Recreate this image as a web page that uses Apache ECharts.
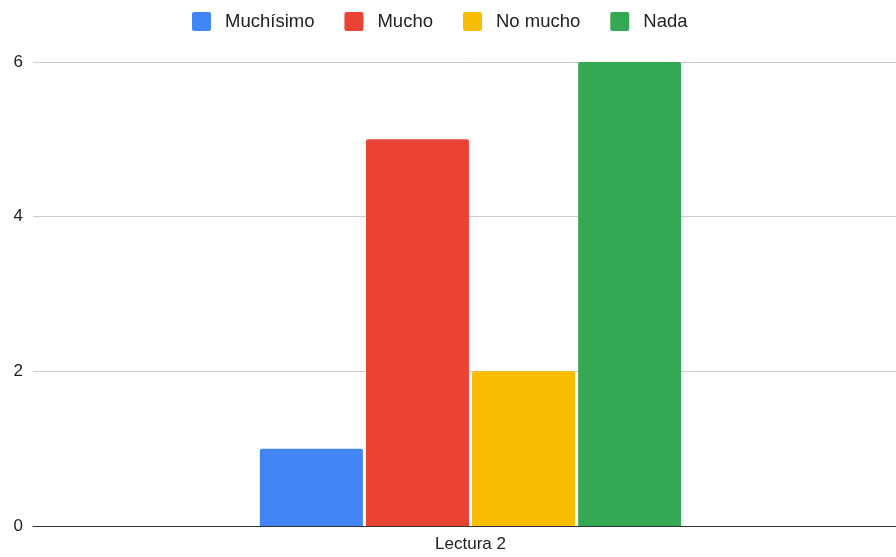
<!DOCTYPE html>
<html>
<head>
<meta charset="utf-8">
<script src="https://cdn.jsdelivr.net/npm/echarts@6/dist/echarts.min.js"></script>
<style>
  html, body { margin: 0; padding: 0; background: #fff; }
  #chart { width: 896px; height: 557px; }
</style>
</head>
<body>
<div id="chart"></div>
<script>
// datos del gráfico
const categories = ["Lectura 2"];
const seriesNames = ["Muchísimo", "Mucho", "No mucho", "Nada"];
const seriesColors = ["#4285f4", "#ea4335", "#fbbc04", "#34a853"];
const muchisimo = [1];
const mucho = [5];
const noMucho = [2];
const nada = [6];
const yMin = 0;
const yMax = 6;
const yStep = 2;

const values = [muchisimo, mucho, noMucho, nada];
const font = "Liberation Sans, Arial, sans-serif";

const chart = echarts.init(document.getElementById("chart"));

const series = seriesNames.map((name, i) => ({
  name: name,
  type: "bar",
  xAxisIndex: 1,
  yAxisIndex: 1,
  data: values[i],
  barWidth: 103,
  barGap: "3%",
  itemStyle: {
    color: seriesColors[i],
    borderRadius: [2, 2, 0, 0]
  }
}));

chart.setOption({
  animation: false,
  backgroundColor: "#fff",
  textStyle: { fontFamily: font },
  legend: {
    top: 7,
    left: 187,
    itemWidth: 19,
    itemHeight: 19,
    itemGap: 30,
    icon: "path://M2,0 H17 Q19,0 19,2 V17 Q19,19 17,19 H2 Q0,19 0,17 V2 Q0,0 2,0 Z",
    textStyle: {
      fontFamily: font,
      fontSize: 18.5,
      color: "#222",
      padding: [0, 0, 0, 9]
    }
  },
  // grid 0: ejes y líneas de fondo; grid 1: barras (centradas un poco a la derecha)
  grid: [
    { left: 33, right: 0, top: 62, bottom: 31 },
    { left: 45, right: 0, top: 62, bottom: 31 }
  ],
  xAxis: [
    {
      type: "category",
      gridIndex: 0,
      data: [""],
      axisLine: { lineStyle: { color: "#333", width: 1 } },
      axisTick: { show: false },
      axisLabel: { show: false }
    },
    {
      type: "category",
      gridIndex: 1,
      data: categories,
      axisLine: { show: false },
      axisTick: { show: false },
      axisLabel: {
        color: "#222",
        fontSize: 17,
        fontFamily: font,
        margin: 10
      }
    }
  ],
  yAxis: [
    {
      type: "value",
      gridIndex: 0,
      min: yMin,
      max: yMax,
      interval: yStep,
      axisLine: { show: false },
      axisTick: { show: false },
      splitLine: { lineStyle: { color: "#cccccc", width: 1 } },
      axisLabel: {
        color: "#222",
        fontSize: 17,
        fontFamily: font,
        margin: 10
      }
    },
    {
      type: "value",
      gridIndex: 1,
      min: yMin,
      max: yMax,
      interval: yStep,
      show: false,
      splitLine: { show: false }
    }
  ],
  series: series
});
</script>
</body>
</html>
